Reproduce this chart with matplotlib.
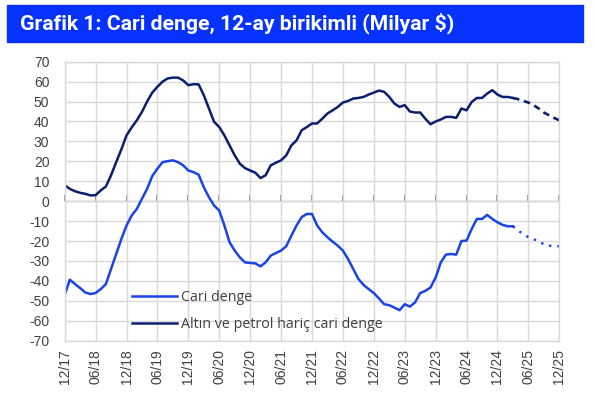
import numpy as np
import matplotlib
matplotlib.use("Agg")
import matplotlib.pyplot as plt
from matplotlib.patches import Rectangle

# monthly data, 12/17 .. 12/25 (last months are forecast)
cari = [-47.1, -39.4, -41.6, -43.6, -45.8, -46.6, -46.1, -44.1, -41.6, -34,
        -26.5, -19, -12.2, -7.2, -3.9, 1.2, 6.2, 12.6, 16.3, 19.6,
        20.1, 20.5, 19.6, 18, 15.4, 14.6, 13.3, 7, 2, -2.2,
        -4.7, -12.2, -20.6, -24.8, -28.2, -30.7, -31, -31.2, -32.7, -30.7,
        -27.3, -26, -24.8, -22.6, -17.3, -12.2, -8, -6.4, -6.4, -12.2,
        -15.6, -18.1, -20.3, -22.3, -24.8, -29, -34, -39, -42, -44.1,
        -46.1, -48.8, -51.7, -52.2, -53.4, -54.7, -51.7, -52.9, -50.8, -46.1,
        -45, -43.3, -38.3, -30.7, -26.8, -26.5, -26.8, -20, -19.8, -13.9,
        -8.9, -8.9, -6.9, -8.9, -10.6, -11.9, -12.6, -12.6, -14.8, -16.4,
        -18.1, -19, -20.3, -21.5, -22.3, -22.6, -22.6]
haric = [8, 6.2, 5, 4.2, 3.7, 2.9, 3.0, 5.4, 7.4, 13,
         19.6, 26, 33, 37, 40.6, 44.8, 50, 54.5, 57.4, 60,
         61.6, 62, 62, 60.6, 58.2, 58.7, 58.6, 53.2, 46.5, 39.8,
         37.2, 33, 28, 23, 18.8, 16.6, 15.4, 14.3, 11.6, 13,
         18, 19.3, 20.5, 23, 28, 30.5, 35.6, 37.2, 39, 39,
         41.4, 44, 45.6, 47.3, 49.5, 50.3, 51.5, 51.8, 52.3, 53.5,
         54.5, 55.5, 54.9, 52.3, 49, 47.3, 48.2, 45, 44.5, 44.5,
         41.4, 38.6, 40, 41, 42.3, 42.3, 41.8, 46.5, 45.6, 49.8,
         51.8, 51.8, 54, 55.7, 53.5, 52.3, 52.3, 51.8, 51.2, 50.3,
         49.5, 48.2, 46.5, 44.5, 43.1, 41.8, 40.6]
last_actual = 87  # index where forecast starts
tick_labels = ["12/17", "06/18", "12/18", "06/19", "12/19", "06/20", "12/20",
               "06/21", "12/21", "06/22", "12/22", "06/23", "12/23", "06/24",
               "12/24", "06/25", "12/25"]

blue = "#1a44e6"
navy = "#0c1f6e"
grid_c = "#d9d9d9"
txt_c = "#404040"

x = np.arange(len(cari))
cari = np.array(cari)
haric = np.array(haric)
k = last_actual

fig = plt.figure(figsize=(5.95, 3.98), dpi=100)
ax = fig.add_axes([0.1087, 0.144, 0.8313, 0.701])

ax.plot(x[:k + 1], cari[:k + 1], color=blue, lw=1.8, label="Cari denge")
ax.plot(x[k:], cari[k:], color=blue, lw=1.7, ls=(0, (1, 2.5)))
ax.plot(x[:k + 1], haric[:k + 1], color=navy, lw=1.8,
        label="Altın ve petrol hariç cari denge")
ax.plot(x[k:], haric[k:], color=navy, lw=1.9, ls=(0, (2.5, 1.8)))

ax.set_xlim(0, len(cari) - 1)
ax.set_ylim(-70, 70)
ticks = np.arange(0, len(cari), 6)
ax.set_xticks(ticks)
ax.set_xticklabels(tick_labels, rotation=90, fontsize=10, color=txt_c,
                   family="Liberation Sans")
ax.set_yticks(np.arange(-70, 71, 10))
ax.set_yticklabels([str(v) for v in range(-70, 71, 10)], fontsize=10,
                   color=txt_c, family="Liberation Sans")
ax.tick_params(axis="both", length=0)
ax.tick_params(axis="x", pad=6)
ax.tick_params(axis="y", pad=11)
ax.grid(True, color=grid_c, lw=1.0)
ax.set_axisbelow(True)
for s in ax.spines.values():
    s.set_color(grid_c)
    s.set_linewidth(1.0)

# zero line with small ticks
sec = ax.secondary_xaxis(0.5)
sec.set_xticks(ticks)
sec.set_xticklabels([])
sec.tick_params(axis="x", direction="out", length=4, width=1.2,
                color="#7f7f7f")
sec.spines["bottom"].set_color("#7f7f7f")
sec.spines["bottom"].set_linewidth(1.6)

leg = ax.legend(loc="center left", bbox_to_anchor=(0.122, 0.105),
                frameon=False, handlelength=3.1,
                handletextpad=0.3, labelspacing=0.85, borderpad=0,
                prop={"family": "Open Sans", "size": 10.3})
for t in leg.get_texts():
    t.set_color(txt_c)

# title bar
fig.patches.append(Rectangle((7 / 595, 1 - 42 / 398), 576 / 595, 37 / 398,
                             transform=fig.transFigure, color="#0532ff",
                             zorder=0))
fig.text(20 / 595, 1 - 23 / 398, "Grafik 1: Cari denge, 12-ay birikimli (Milyar $)",
         color="white", fontsize=15.3, fontweight="bold", family="Roboto",
         va="center", ha="left")

fig.savefig("out.png", dpi=100)
